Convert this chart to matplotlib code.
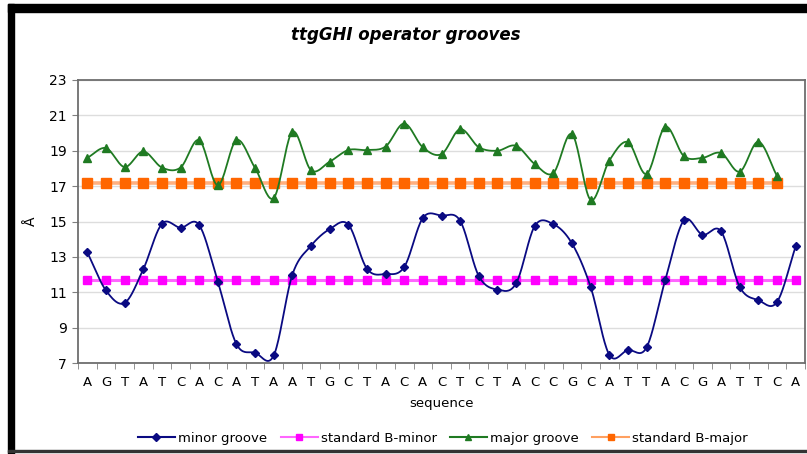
import numpy as np
import matplotlib
matplotlib.use("Agg")
import matplotlib.pyplot as plt
from matplotlib.lines import Line2D

sequence = list("AGTATCACATAATGCTACACTCTACCGCATTACGATTCA")

minor_groove = [13.25, 11.1, 10.4, 12.3, 14.87, 14.65, 14.8, 11.6, 8.07, 7.58,
                7.43, 12.0, 13.63, 14.57, 14.83, 12.33, 12.03, 12.43, 15.2, 15.33,
                15.04, 11.92, 11.15, 11.5, 14.74, 14.85, 13.76, 11.3, 7.47, 7.73,
                7.88, 11.68, 15.06, 14.25, 14.44, 11.3, 10.55, 10.45, 13.59]
major_groove = [18.6, 19.15, 18.08, 18.96, 18.05, 18.05, 19.6, 17.05, 19.6, 18.02,
                16.33, 20.07, 17.9, 18.38, 19.04, 19.04, 19.24, 20.54, 19.19, 18.81,
                20.22, 19.2, 19.0, 19.28, 18.25, 17.74, 19.94, 16.22, 18.44, 19.49,
                17.69, 20.35, 18.7, 18.6, 18.87, 17.82, 19.51, 17.57]
b_minor_value = 11.7
b_major_value = 17.2
standard_b_minor = [b_minor_value] * len(sequence)
standard_b_major = [b_major_value] * len(major_groove)


def smooth(y, n=20):
    """Catmull-Rom spline through the points (i, y[i])."""
    y = np.asarray(y, dtype=float)
    x = np.arange(len(y), dtype=float)
    p = np.concatenate([[2 * y[0] - y[1]], y, [2 * y[-1] - y[-2]]])
    px = np.concatenate([[x[0] - 1], x, [x[-1] + 1]])
    xs, ys = [], []
    t = np.linspace(0, 1, n, endpoint=False)
    for i in range(1, len(p) - 2):
        for arr, out in ((px, xs), (p, ys)):
            p0, p1, p2, p3 = arr[i - 1], arr[i], arr[i + 1], arr[i + 2]
            out.append(0.5 * ((2 * p1) + (-p0 + p2) * t
                              + (2 * p0 - 5 * p1 + 4 * p2 - p3) * t ** 2
                              + (-p0 + 3 * p1 - 3 * p2 + p3) * t ** 3))
    xs.append([x[-1]])
    ys.append([y[-1]])
    return np.concatenate(xs), np.concatenate(ys)


fig = plt.figure(figsize=(8.07, 4.54), dpi=100)
ax = fig.add_axes([0.0967, 0.2004, 0.9008, 0.6234])

navy = "#0A0A82"
green = "#1F7A22"
magenta = "#FF00FF"
orange = "#FF6600"

# standard B-DNA reference lines
xb = np.arange(len(standard_b_minor))
ax.plot(xb, standard_b_minor, color="#FF66FF", lw=2.2, zorder=2)
ax.plot(xb, standard_b_minor, ls="none", marker="s", ms=6, color=magenta, zorder=3)
xj = np.arange(len(standard_b_major))
ax.plot(xj, standard_b_major, color="#FFB080", lw=2.6, zorder=2)
ax.plot(xj, standard_b_major, ls="none", marker="s", ms=6.5, color=orange, zorder=3)

# measured grooves, smoothed
sx, sy = smooth(minor_groove)
ax.plot(sx, sy, color=navy, lw=1.3, zorder=4)
ax.plot(np.arange(len(minor_groove)), minor_groove, ls="none", marker="D",
        ms=4.5, color=navy, zorder=5)
sx, sy = smooth(major_groove)
ax.plot(sx, sy, color=green, lw=1.3, zorder=4)
ax.plot(np.arange(len(major_groove)), major_groove, ls="none", marker="^",
        ms=6, color=green, zorder=5)

ax.set_xlim(-0.5, len(sequence) - 0.5)
ax.set_ylim(7, 23)
ax.set_yticks(np.arange(7, 24, 2))
ax.set_xticks(np.arange(len(sequence)))
ax.set_xticklabels(sequence)
ax.set_xticks(np.arange(-0.5, len(sequence), 1), minor=True)
ax.tick_params(axis="x", which="major", length=0, pad=9, labelsize=9.5)
ax.tick_params(axis="x", which="minor", length=4, color="#808080", direction="out")
ax.tick_params(axis="y", length=4, color="#808080", labelsize=10, pad=4)
ax.yaxis.grid(True, color="#DDDDDD", lw=1)
ax.set_axisbelow(True)
for s in ax.spines.values():
    s.set_color("#6E6E6E")
    s.set_linewidth(1.3)

ax.set_xlabel("sequence", fontsize=9.5, labelpad=6)
ax.set_ylabel("Å", fontsize=10, labelpad=8)
fig.text(0.503, 0.922, "ttgGHI operator grooves", ha="center", va="center",
         fontsize=12, fontweight="bold", fontstyle="italic")

handles = [
    Line2D([], [], color=navy, marker="D", ms=4, lw=1.5),
    Line2D([], [], color="#FF66FF", marker="s", mfc=magenta, mec=magenta, ms=5, lw=1.5),
    Line2D([], [], color=green, marker="^", ms=5, lw=1.5),
    Line2D([], [], color="#FFA060", marker="s", mfc=orange, mec=orange, ms=5, lw=1.5),
]
labels = ["minor groove", "standard B-minor", "major groove", "standard B-major"]
fig.legend(handles, labels, loc="center", bbox_to_anchor=(0.549, 0.035), ncol=4,
           frameon=False, fontsize=9.5, handlelength=2.8, handletextpad=0.25,
           columnspacing=1.0)

# outer frame
fig.patches.append(plt.Rectangle((8 / 807, 0), 6 / 807, 1 - 4 / 454,
                                 transform=fig.transFigure, color="black", zorder=10))
fig.patches.append(plt.Rectangle((8 / 807, 1 - 12 / 454), 1, 8 / 454,
                                 transform=fig.transFigure, color="black", zorder=10))
fig.patches.append(plt.Rectangle((8 / 807, 2 / 454), 1, 2 / 454,
                                 transform=fig.transFigure, color="#333333", zorder=10))

fig.savefig("out.png", dpi=100)
